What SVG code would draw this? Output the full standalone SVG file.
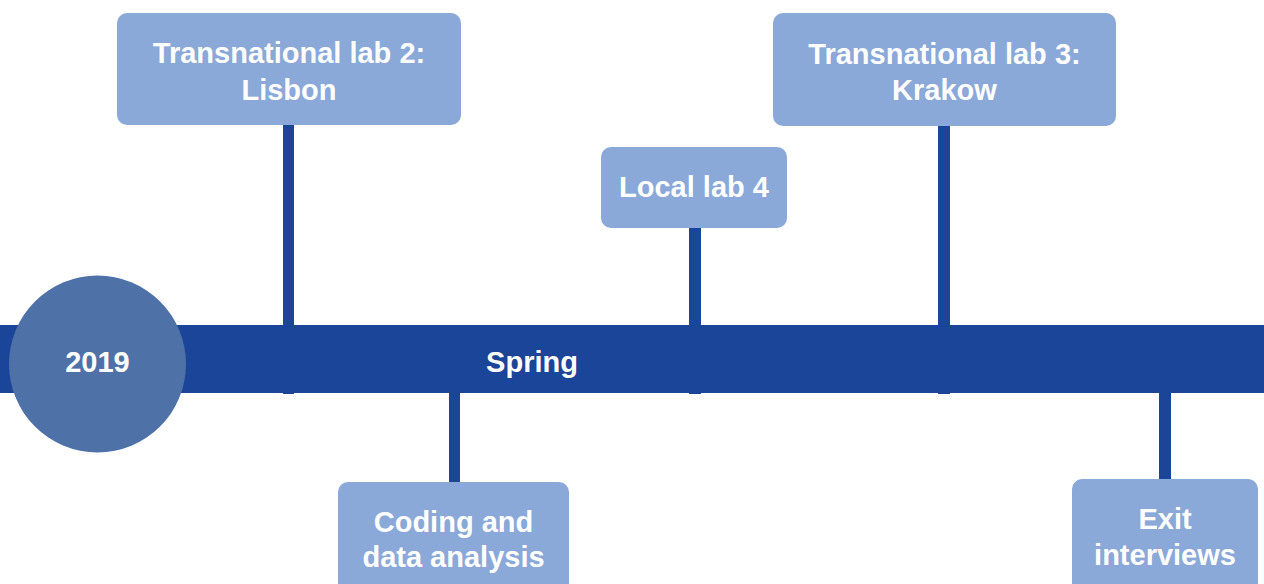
<svg xmlns="http://www.w3.org/2000/svg" width="1264" height="584" viewBox="0 0 1264 584">
<style>
.box{fill:#8aa8d8;}
.stem{fill:#1a4598;}
.t{font-family:"Liberation Sans",Arial,sans-serif;font-weight:700;font-size:29px;fill:#ffffff;text-anchor:middle;}
</style>
<rect width="1264" height="584" fill="#ffffff"/>
<g id="connectors">
<rect class="stem" x="283" y="120" width="11" height="274"/>
<rect class="stem" x="689" y="222" width="12" height="172"/>
<rect class="stem" x="938" y="120" width="12" height="274"/>
<rect class="stem" x="449" y="380" width="11" height="106"/>
<rect class="stem" x="1159" y="380" width="12" height="103"/>
</g>
<g id="band">
<rect x="0" y="325" width="1264" height="68" fill="#1a4598"/>
<text class="t" x="532" y="372">Spring</text>
</g>
<g id="year">
<circle cx="97.5" cy="364" r="88.5" fill="#4e72a8"/>
<text class="t" x="97.5" y="372">2019</text>
</g>
<g id="lisbon">
<rect class="box" x="117" y="13" width="344" height="112" rx="10"/>
<text class="t" x="289" y="63">Transnational lab 2:</text>
<text class="t" x="289" y="100">Lisbon</text>
</g>
<g id="local4">
<rect class="box" x="601" y="147" width="186" height="81" rx="10"/>
<text class="t" x="694" y="197">Local lab 4</text>
</g>
<g id="krakow">
<rect class="box" x="773" y="13" width="343" height="113" rx="10"/>
<text class="t" x="944.5" y="64">Transnational lab 3:</text>
<text class="t" x="944.5" y="100">Krakow</text>
</g>
<g id="coding">
<rect class="box" x="338" y="482" width="231" height="120" rx="10"/>
<text class="t" x="453.5" y="532">Coding and</text>
<text class="t" x="453.5" y="567">data analysis</text>
</g>
<g id="exit">
<rect class="box" x="1072" y="479" width="186" height="123" rx="10"/>
<text class="t" x="1165" y="529">Exit</text>
<text class="t" x="1165" y="565">interviews</text>
</g>
</svg>
